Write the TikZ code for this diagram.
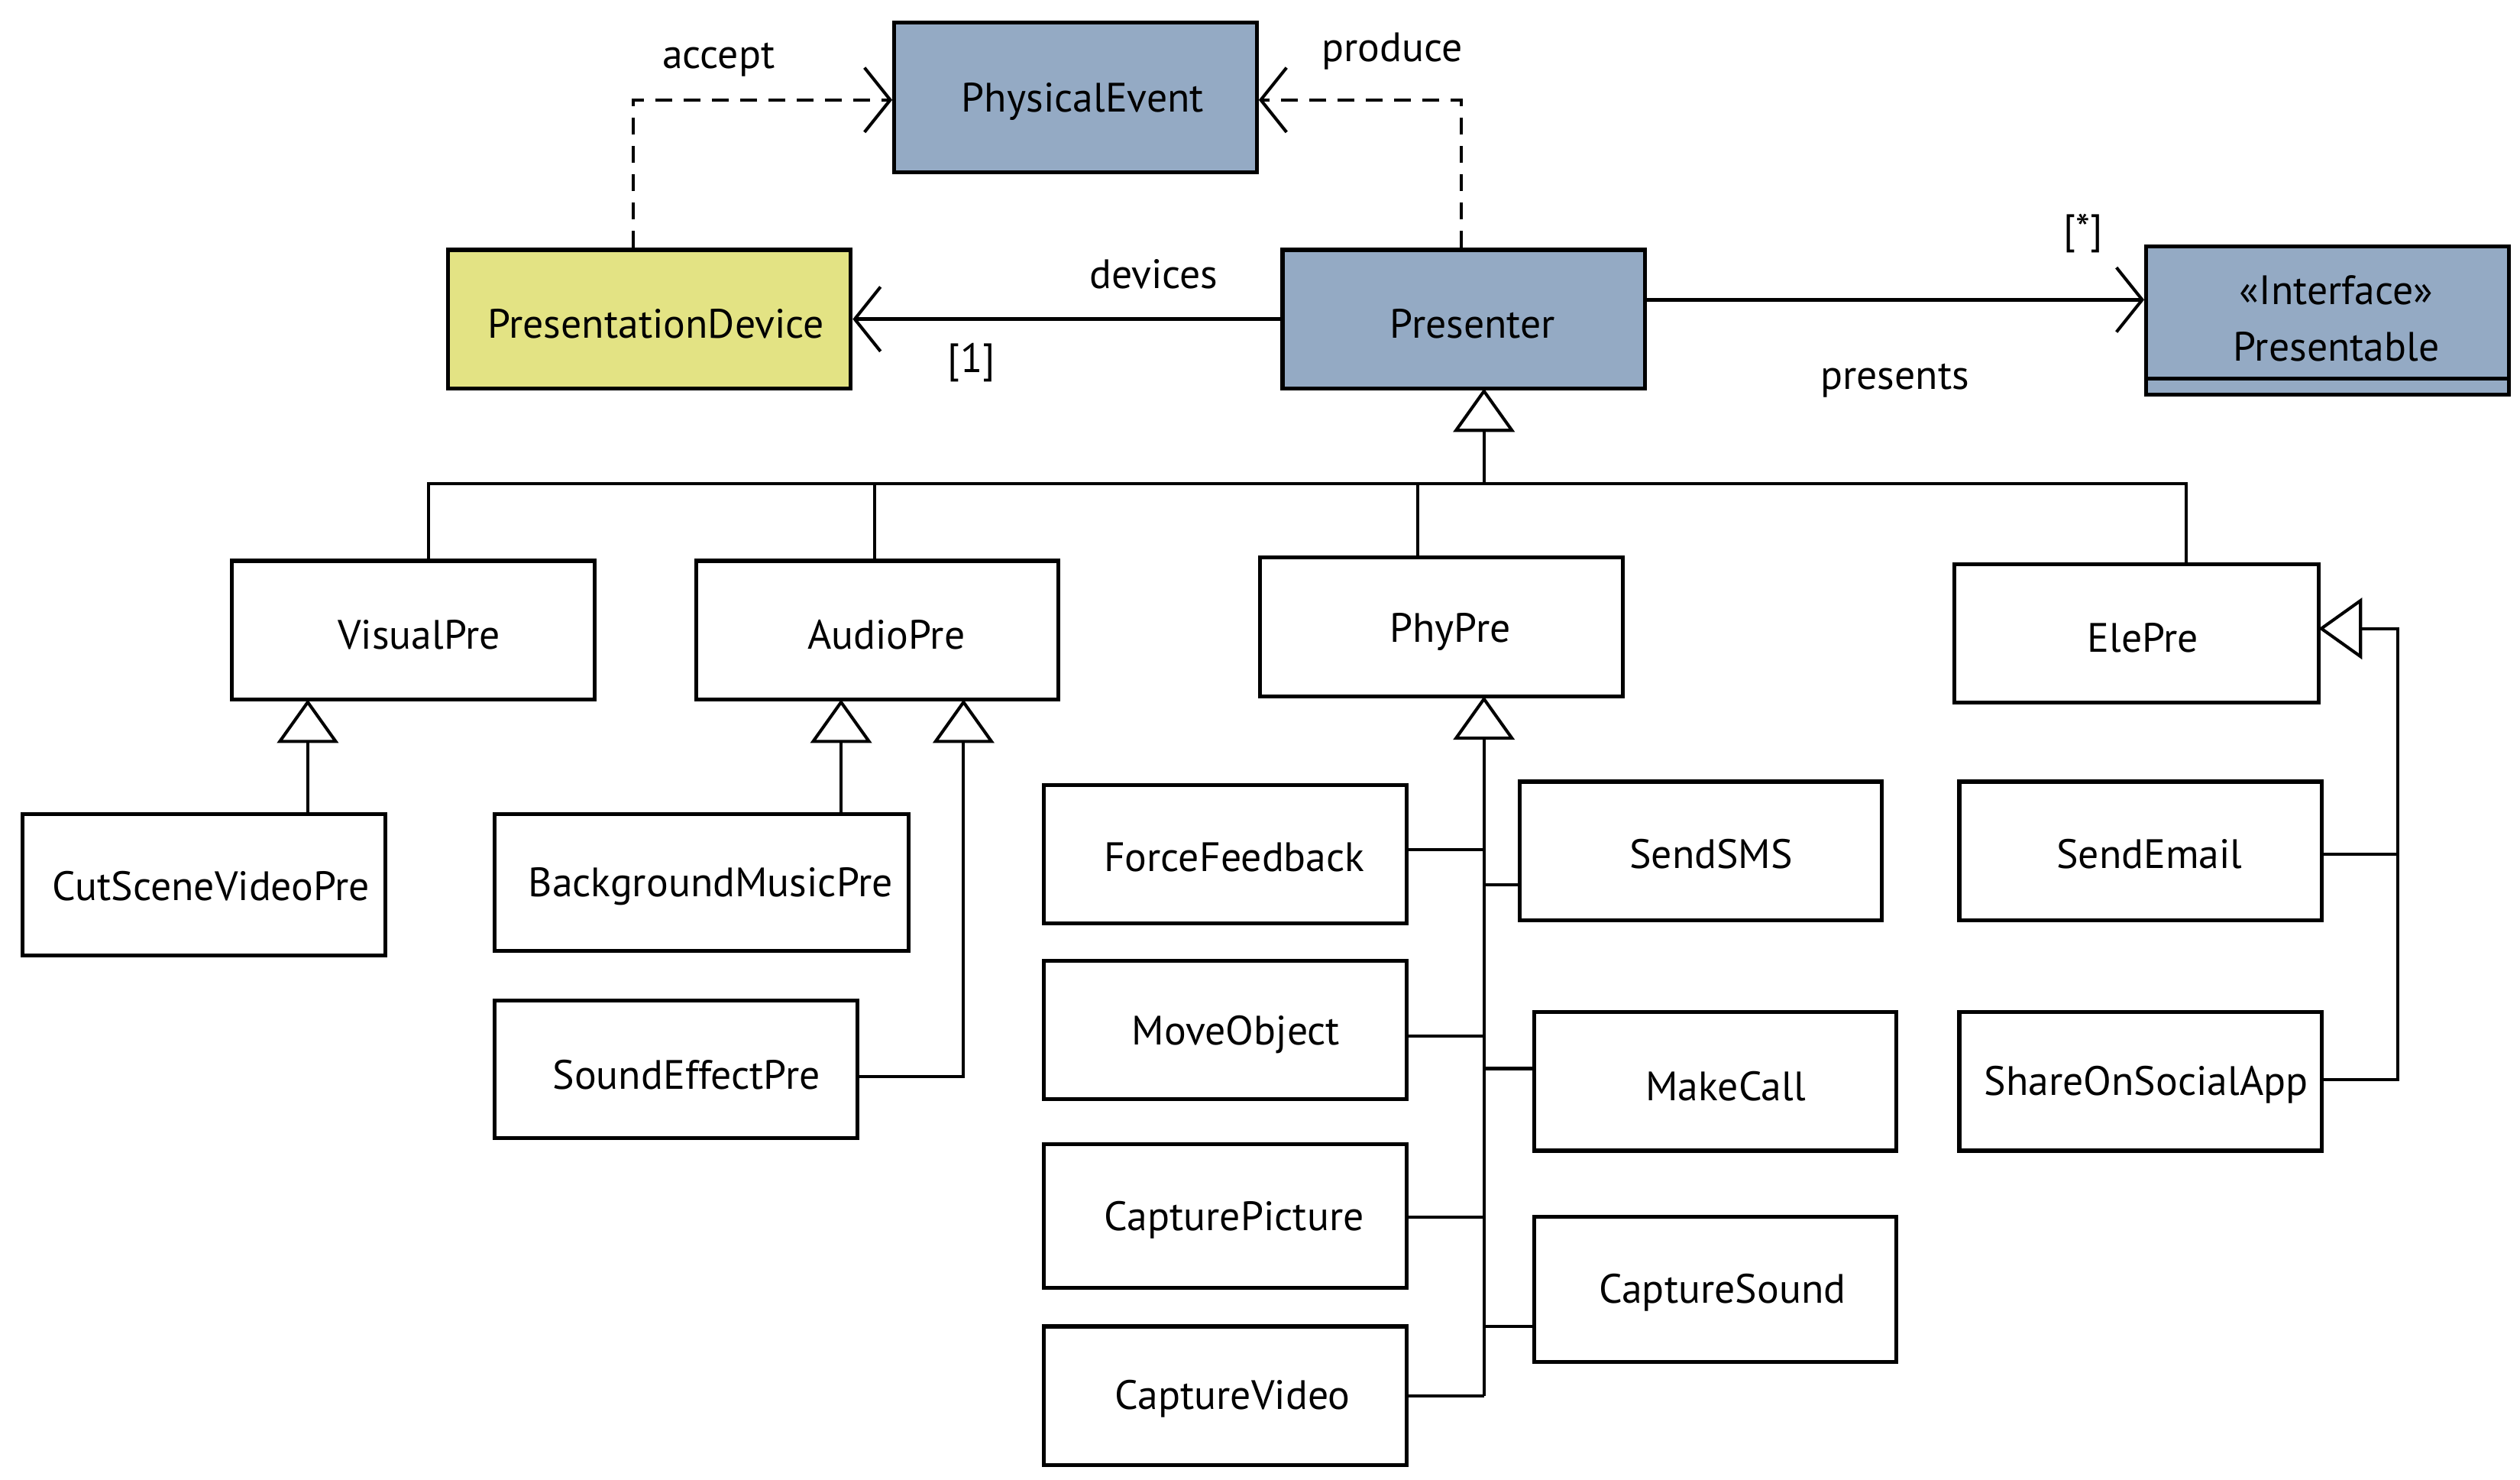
\documentclass[tikz,border=0pt]{standalone}
\usepackage{fontspec}
\setmainfont{PT Sans}
\usetikzlibrary{arrows.meta}
\begin{document}
\begin{tikzpicture}[x=0.02cm,y=-0.02cm,
  font=\fontsize{14.5}{16}\selectfont,
  cls/.style={draw=black,line width=1.4pt,fill=white,inner sep=0pt},
  blue/.style={cls,fill=blueg},
  lbl/.style={inner sep=0pt,anchor=center},
  gen/.style={line width=1.1pt,-{Triangle[open,length=0.54cm,width=0.76cm,line width=1.1pt]}},
  dep/.style={line width=1.1pt,dashed,dash pattern=on 6pt off 4pt,-{Straight Barb[length=0.32cm,width=0.8cm,line width=1.1pt]}},
  asc/.style={line width=1.2pt,-{Straight Barb[length=0.32cm,width=0.8cm,line width=1.1pt]}},
  ln/.style={line width=1.1pt}]
\definecolor{blueg}{HTML}{94AAC4}
\definecolor{yel}{HTML}{E3E384}
\useasboundingbox (0,0) rectangle (1564,918);
\newcommand{\bx}[6]{\node[#6,minimum width={(#4-#2)*0.02cm},minimum height={(#5-#3)*0.02cm}] (#1) at ({(#2+#4)/2},{(#3+#5)/2}) {};}
% boxes
\bx{pe}{555}{14}{780}{107}{blue}
\bx{pd}{278}{155}{528}{241}{cls,fill=yel}
\bx{pr}{796}{155}{1021}{241}{blue}
\bx{ps}{1332}{153}{1557}{245}{blue}
\draw[line width=1.4pt] (1332,235) -- (1557,235);
\bx{vp}{144}{348}{369}{434}{cls}
\bx{ap}{432}{348}{657}{434}{cls}
\bx{pp}{782}{346}{1007}{432}{cls}
\bx{ep}{1213}{350}{1439}{436}{cls}
\bx{cs}{14}{505}{239}{593}{cls}
\bx{bm}{307}{505}{564}{590}{cls}
\bx{se}{307}{621}{532}{706}{cls}
\bx{ff}{648}{487}{873}{573}{cls}
\bx{sms}{943}{485}{1168}{571}{cls}
\bx{mo}{648}{596}{873}{682}{cls}
\bx{mc}{952}{628}{1177}{714}{cls}
\bx{cp}{648}{710}{873}{799}{cls}
\bx{csd}{952}{755}{1177}{845}{cls}
\bx{cv}{648}{823}{873}{909}{cls}
\bx{sem}{1216}{485}{1441}{571}{cls}
\bx{sh}{1216}{628}{1441}{714}{cls}
% texts
\node[lbl] (tpe) at (672,63) {PhysicalEvent};
\node[lbl] (tpd) at (407,201) {PresentationDevice};
\node[lbl] (tpr) at (914,201) {Presenter};
\node[lbl] (tps1) at (1450,180) {«Interface»};
\node[lbl] (tps2) at (1450,215) {Presentable};
\node[lbl] (tvp) at (260,394) {VisualPre};
\node[lbl] (tap) at (550,394) {AudioPre};
\node[lbl] (tpp) at (900,392) {PhyPre};
\node[lbl] (tep) at (1330,396) {ElePre};
\node[lbl] (tcs) at (131,550) {CutSceneVideoPre};
\node[lbl] (tbm) at (441,550) {BackgroundMusicPre};
\node[lbl] (tse) at (426,667) {SoundEffectPre};
\node[lbl] (tff) at (766,532) {ForceFeedback};
\node[lbl] (tsms) at (1062,530) {SendSMS};
\node[lbl] (tmo) at (767,642) {MoveObject};
\node[lbl] (tmc) at (1071,674) {MakeCall};
\node[lbl] (tcp) at (766,757) {CapturePicture};
\node[lbl] (tcsd) at (1069,802) {CaptureSound};
\node[lbl] (tcv) at (765,868) {CaptureVideo};
\node[lbl] (tsem) at (1334,530) {SendEmail};
\node[lbl] (tsh) at (1332,673) {ShareOnSocialApp};
% labels
\node[lbl] (la) at (446,37) {accept};
\node[lbl] (lp) at (864,32) {produce};
\node[lbl] (ld) at (716,170) {devices};
\node[lbl] (l1) at (603,225) {[1]};
\node[lbl] (ls) at (1293,145) {[*]};
\node[lbl] (lpr) at (1176,236) {presents};
% dependencies
\coordinate (a1) at (393,62);
\coordinate (p1) at (907,62);
\draw[dep] (pd.north -| a1) -- (a1) -- (pe.west |- a1);
\draw[dep] (pr.north -| p1) -- (p1) -- (pe.east |- p1);
\draw[asc] (pr.west |- 0,198) -- (pd.east |- 0,198);
\draw[asc] (pr.east |- 0,186) -- (ps.west |- 0,186);
% generalization tree to Presenter
\coordinate (j0) at (921,300);
\draw[gen] (j0) -- (921,241);
\draw[ln] (vp.north -| 266,0) -- (266,300) -- (1357,300) -- (ep.north -| 1357,0);
\draw[ln] (ap.north -| 543,0) -- (543,300);
\draw[ln] (pp.north -| 880,0) -- (880,300);
% visual / audio
\draw[gen] (cs.north -| 191,0) -- (191,434);
\draw[gen] (bm.north -| 522,0) -- (522,434);
\draw[gen] (se.east |- 0,668) -- (598,668) -- (598,434);
% phy
\coordinate (pj) at (921,866);
\draw[gen] (pj) -- (921,432);
\draw[ln] (ff.east |- 0,527) -- (921,527);
\draw[ln] (sms.west |- 0,549) -- (921,549);
\draw[ln] (mo.east |- 0,643) -- (921,643);
\draw[ln] (mc.west |- 0,663) -- (921,663);
\draw[ln] (cp.east |- 0,755) -- (921,755);
\draw[ln] (csd.west |- 0,823) -- (921,823);
\draw[ln] (cv.east |- 0,866) -- (pj);
% ele
\coordinate (ej) at (1488,670);
\draw[gen] (sh.east |- ej) -- (ej) -- (1488,390) -- (1439,390);
\draw[ln] (sem.east |- 0,530) -- (1488,530);
\end{tikzpicture}
\end{document}
